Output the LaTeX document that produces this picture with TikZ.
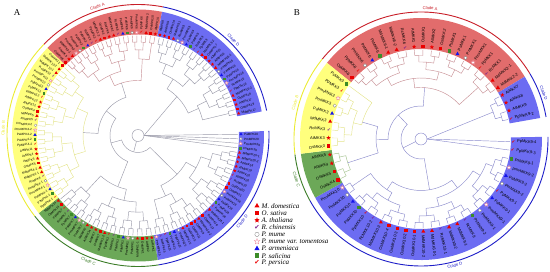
\documentclass[tikz,border=0pt]{standalone}
\usepackage{fontspec}
\setmainfont{Liberation Serif}
\setsansfont{Liberation Sans}
\newfontfamily\tickfont{DejaVu Sans}
\usetikzlibrary{shapes.geometric}
\definecolor{redband}{RGB}{226,108,108}
\definecolor{blueband}{RGB}{108,108,242}
\definecolor{yellowband}{RGB}{255,255,125}
\definecolor{greenband}{RGB}{108,168,88}
\definecolor{redarc}{RGB}{200,30,40}
\definecolor{bluearc}{RGB}{30,30,200}
\definecolor{yellowarc}{RGB}{235,235,50}
\definecolor{greenarc}{RGB}{60,125,40}
\definecolor{redbranch}{RGB}{200,145,150}
\definecolor{bluebranch}{RGB}{140,140,205}
\definecolor{yellowbranch}{RGB}{228,228,140}
\definecolor{greenbranch}{RGB}{165,195,145}
\definecolor{graybranch}{RGB}{155,155,170}
\definecolor{mkred}{RGB}{235,0,0}
\definecolor{mkblue}{RGB}{20,20,235}
\definecolor{mkgreen}{RGB}{60,140,40}
\definecolor{mkpurple}{RGB}{120,30,140}
\definecolor{mkpink}{RGB}{235,130,150}

%% coloured ring segment behind one clade
\newcommand\sectorband[3]{%
  \fill[#3] (#1:\rbi pt) arc[start angle=#1,end angle=#2,radius=\rbi pt]
    -- (#2:\rbo pt) arc[start angle=#2,end angle=#1,radius=\rbo pt] -- cycle;}

%% outer arc and clade name
\newcommand\cladearc[5]{%
  \draw[#3,line width=0.9pt] (#1:\rarc pt) arc[start angle=#1,end angle=#2,radius=\rarc pt];
  \pgfmathsetmacro\amid{(#1+#2)/2}
  \pgfmathtruncatemacro\low{sin(\amid)<0}
  \ifnum\low=1 \def\tilt{90}\else\def\tilt{-90}\fi
  \node[clade name,text=#3,rotate=\amid+\tilt] (#4) at (\amid:\rlab pt) {#5};}

%% leaf markers and labels: id, first angle, last angle, count, species/number list
\newcommand\leaves[5]{%
  \foreach \kind/\gnum [count=\i] in {#5}{
    \pgfmathsetmacro\ang{#2+(\i-0.5)*(#3-#2)/#4}
    \coordinate (tip-#1-\i) at (\ang:\rz pt);
    \node[name=mk-#1-\i,at={(\ang:\rmk pt)},mk \kind];
    \pgfmathtruncatemacro\flip{cos(\ang)<0}
    \ifnum\flip=1
      \node[leaf,rotate=\ang+180,anchor=east] (lb-#1-\i) at (\ang:\rtx pt) {\kind\gtag\gnum};
    \else
      \node[leaf,rotate=\ang,anchor=west] (lb-#1-\i) at (\ang:\rtx pt) {\kind\gtag\gnum};
    \fi
  }}

%% tree of one clade, leaves joined pairwise level by level
\newcommand\branches[4]{%
  \pgfmathtruncatemacro\klast{ceil(ln(#3)/ln(2)-0.01)}
  \foreach \lev in {1,...,\klast}{
    \pgfmathtruncatemacro\gs{2^\lev}
    \pgfmathtruncatemacro\hs{2^(\lev-1)}
    \pgfmathtruncatemacro\ng{ceil(#3/\gs)-1}
    \pgfmathsetmacro\rprev{\rz-\ka*(\lev-1)-\kb*(\lev-1)^2}
    \pgfmathsetmacro\rnow{\rz-\ka*\lev-\kb*\lev^2}
    \foreach \q in {0,...,\ng}{
      \pgfmathtruncatemacro\fa{\q*\gs}
      \pgfmathtruncatemacro\fb{min(\fa+\hs,#3)-1}
      \pgfmathsetmacro\ma{#1+((\fa+\fb)/2+0.5)*(#2-#1)/#3}
      \draw[#4] (\ma:\rprev pt) -- (\ma:\rnow pt);
      \pgfmathtruncatemacro\sy{\fa+\hs}
      \ifnum\sy<#3
        \pgfmathtruncatemacro\sz{min(\fa+\gs,#3)-1}
        \pgfmathsetmacro\mb{#1+((\sy+\sz)/2+0.5)*(#2-#1)/#3}
        \draw[#4] (\mb:\rprev pt) -- (\mb:\rnow pt) arc[start angle=\mb,end angle=\ma,radius=\rnow pt];
      \fi
    }
  }}

\newcommand\clade[6]{\branches{#2}{#3}{#4}{#5}\leaves{#1}{#2}{#3}{#4}{#6}}

\begin{document}
\begin{tikzpicture}[x=1pt,y=1pt]
  %%Styles for markers, labels and branches
  \tikzset{mk/.style={inner sep=0pt,minimum size=\mks,node contents={}}}
  \tikzset{mk Md/.style={mk,regular polygon,regular polygon sides=3,minimum size={1.35*\mks},fill=mkred}}
  \tikzset{mk Os/.style={mk,rectangle,fill=mkred}}
  \tikzset{mk At/.style={mk,star,star points=5,star point ratio=2.3,minimum size={1.3*\mks},fill=mkred}}
  \tikzset{mk Rc/.style={mk,text=mkpurple,font=\tickfont\fontsize{\mkf}{\mkf}\selectfont,node contents={✔}}}
  \tikzset{mk Pm/.style={mk,circle,draw=gray,fill=white,line width=.3pt}}
  \tikzset{mk Pmv/.style={mk,star,star points=5,star point ratio=2.3,minimum size={1.3*\mks},draw=mkpink,fill=white,line width=.3pt}}
  \tikzset{mk Pa/.style={mk,regular polygon,regular polygon sides=3,minimum size={1.35*\mks},fill=mkblue}}
  \tikzset{mk Ps/.style={mk,rectangle,fill=mkgreen}}
  \tikzset{mk Pp/.style={mk,text=mkred,font=\tickfont\fontsize{\mkf}{\mkf}\selectfont,node contents={✔}}}
  \tikzset{leaf/.style={inner sep=0pt,font=\sffamily\fontsize{\lbf}{\lbf}\selectfont}}
  \tikzset{clade name/.style={inner sep=0pt,font=\sffamily\fontsize{4.2}{4.2}\selectfont}}
  \tikzset{key name/.style={anchor=west,inner sep=0pt,font=\itshape\fontsize{7}{7}\selectfont}}
  \tikzset{panel letter/.style={inner sep=0pt,font=\fontsize{9}{9}\selectfont}}
  \tikzset{red tree/.style={line width=.45pt,draw=redbranch}}
  \tikzset{blue tree/.style={line width=.45pt,draw=bluebranch}}
  \tikzset{yellow tree/.style={line width=.45pt,draw=yellowbranch}}
  \tikzset{green tree/.style={line width=.45pt,draw=greenbranch}}
  \tikzset{gray tree/.style={line width=.45pt,draw=graybranch}}
  \useasboundingbox (0,0) rectangle (550,272);

  %%Panel A
  \begin{scope}[shift={(138,136.5)}]
    \def\rz{100}\def\rmk{103}\def\rtx{106}\def\rbi{101}\def\rbo{126}
    \def\rarc{131}\def\rlab{135}\def\ka{6}\def\kb{0.6}\def\gtag{MPK}
    \def\mks{2.8pt}\def\mkf{3.8}\def\lbf{3.1}
    \sectorband{136}{79}{redband}
    \sectorband{79}{11}{blueband}
    \sectorband{2}{-81}{blueband}
    \sectorband{-81}{-142}{greenband}
    \sectorband{218}{136}{yellowband}
    %%Clades
    \clade{aA}{136}{79}{22}{red tree}{Os/6,At/3,Md/3-1,Pmv/3,Pm/3,Ps/3,Pa/3,Rc/3,Pp/3,Md/3-2,Os/3,At/6,Md/6-1,Rc/6,Pa/6,Ps/6,Pm/6,Pmv/6,Pp/6,Md/6-2,Os/10,At/10}
    \clade{aD1}{79}{11}{26}{gray tree}{At/8,At/9,Os/16,Md/9-1,Pm/9,Pmv/9,Pa/9,Ps/9,Rc/9,Pp/9,Md/9-2,Os/17,At/15,At/16,Md/16-1,Pm/16,Pa/16,Ps/16,Pmv/16,Rc/16,Pp/16,Md/16-2,Os/18,At/17,Os/19,Md/17}
    \leaves{aD2}{2}{-8.375}{4}{Pa/20,Pm/20,Pmv/20,Ps/20}
    \clade{aD3}{-8.375}{-81}{28}{gray tree}{Md/20-1,Md/20-2,At/18,At/19,At/20,Pp/20,Rc/20,Os/20,Os/21,Pmv/18,Pm/18,Pa/18,Ps/18,Pp/18,Md/18-1,Rc/18,Os/13,Md/18-2,Os/8,Os/11,Os/15,Md/15,Pm/15,Pa/15,Ps/15,Pp/15,Rc/15,Pmv/15}
    \clade{aC}{-81}{-142}{23}{gray tree}{At/1,At/2,Os/1,Md/1-1,Pm/1,Pmv/1,Pa/1,Ps/1,Rc/1,Pp/1,Md/1-2,Os/7,At/7,At/14,Md/7,Pm/7,Pmv/7,Pa/7,Ps/7,Rc/7,Pp/7,Os/14,Md/14}
    \clade{aB}{218}{136}{31}{yellow tree}{Pp/4-1,Ps/4-1,Pa/4-1,Pmv/4-1,Pm/4-1,Rc/4,Md/4-1,Md/4-2,Os/5,At/5,At/4,At/11,Pp/4-2,Ps/4-2,Pa/4-2,Pmv/4-2,Pm/4-2,Rc/5,Md/5,Os/4,At/12,At/13,Pp/12,Ps/12,Pa/12,Pm/12,Pmv/12,Rc/12,Md/12-1,Md/12-2,Os/12}
    %%Backbone
    \draw[gray tree] (107.5:55pt) -- (107.5:40pt) arc[start angle=107.5,end angle=177,radius=40pt] -- (177:55pt);
    \draw[gray tree] (142.25:40pt) -- (142.25:28pt) arc[start angle=142.25,end angle=248.5,radius=28pt] -- (248.5:55pt);
    \draw[gray tree] (195.4:28pt) -- (195.4:17pt) arc[start angle=195.4,end angle=315.3,radius=17pt] -- (315.3:55pt);
    \draw[gray tree] (255.3:17pt) -- (255.3:6pt);
    \draw[gray tree] (0,0) circle[radius=6pt];
    \coordinate (rootA) at (0:6pt);
    \draw[gray tree] (rootA) -- (45:55pt);
    \foreach \i in {1,...,4}{\draw[gray tree] (rootA) -- (tip-aD2-\i);}
    %%Outer arcs
    \cladearc{136}{79}{redarc}{aArcA}{Clade A}
    \cladearc{79}{11}{bluearc}{aArcD1}{Clade D}
    \cladearc{2}{-81}{bluearc}{aArcD2}{Clade D}
    \cladearc{-81}{-142}{greenarc}{aArcC}{Clade C}
    \cladearc{218}{136}{yellowarc}{aArcB}{Clade B}
  \end{scope}

  %%Panel B
  \begin{scope}[shift={(421,133)}]
    \def\rz{89}\def\rmk{92.5}\def\rtx{96}\def\rbi{90}\def\rbo{121}
    \def\rarc{127}\def\rlab{131}\def\ka{5}\def\kb{0.5}\def\gtag{MKK}
    \def\mks{3.4pt}\def\mkf{4.4}\def\lbf{4.0}
    \sectorband{141}{31}{redband}
    \sectorband{31}{10}{blueband}
    \sectorband{1}{-151}{blueband}
    \sectorband{-151}{-173}{greenband}
    \sectorband{187}{141}{yellowband}
    %%Clades
    \clade{bA}{141}{31}{20}{red tree}{Os/6,Pp/6,Pm/6,Pa/6,Ps/6,Md/6-1,Md/6-2,Rc/6,At/1,Os/1,At/2,Os/2,Ps/1,Pa/1,Pm/1,Pmv/1,Pp/1,Rc/1,Md/2-1,Md/2-2}
    \clade{bD1}{31}{10}{4}{blue tree}{At/7,At/8,At/9,Pp/9-2}
    \leaves{bD2}{1}{-9.857}{2}{Pp/9-4,Pp/9-3}
    \clade{bD3}{-9.857}{-151}{26}{blue tree}{Ps/9-1,Pmv/9-2,Pa/9-2,Pm/9-2,Pp/9-1,Pa/9-1,Pmv/9-1,Pm/9-1,Ps/9-2,Rc/9,Md/9-1,Md/9-2,Rc/10-1,Md/10-1,Md/10-2,Os/10-1,Os/10-2,Os/10-3,Os/10-4,Md/10-3,Rc/10-2,Pp/10,Ps/10,Pa/10,Pm/10,Pmv/10}
    \clade{bC}{-151}{-173}{4}{green tree}{Os/4,Os/5,At/4,At/5}
    \clade{bB}{187}{141}{9}{yellow tree}{Os/3,At/3,Rc/3,Md/3,Pa/3,Pm/3,Pmv/3,Pp/3,Ps/3}
    %%Backbone
    \draw[blue tree] (164:61pt) -- (164:45pt) arc[start angle=164,end angle=198,radius=45pt] -- (198:77pt);
    \draw[blue tree] (86:51.5pt) -- (86:33pt) arc[start angle=86,end angle=181,radius=33pt] -- (181:45pt);
    \draw[blue tree] (133.5:33pt) -- (133.5:20pt) arc[start angle=133.5,end angle=279.57,radius=20pt] -- (279.57:51.5pt);
    \draw[blue tree] (206.5:20pt) -- (206.5:6pt);
    \draw[blue tree] (0,0) circle[radius=6pt];
    \coordinate (rootB) at (0:6pt);
    \draw[blue tree] (rootB) -- (20.5:77pt);
    \foreach \i in {1,2}{\draw[blue tree] (rootB) -- (tip-bD2-\i);}
    %%Outer arcs
    \cladearc{141}{31}{redarc}{bArcA}{Clade A}
    \cladearc{31}{10}{bluearc}{bArcD1}{Clade D}
    \cladearc{1}{-151}{bluearc}{bArcD2}{Clade D}
    \cladearc{-151}{-173}{greenarc}{bArcC}{Clade C}
    \cladearc{187}{141}{yellowarc}{bArcB}{Clade B}
  \end{scope}

  %%Legend
  \begin{scope}
    \def\mks{4.4pt}\def\mkf{6.4}
    \foreach \kind/\species [count=\i] in {Md/M. domestica,Os/O. sativa,At/A. thaliana,Rc/R. chinensis,Pm/P. mume,Pmv/P. mume var. tomentosa,Pa/P. armeniaca,Ps/P. salicina,Pp/P. persica}{
      \node[name=key-\kind,at={(257,{66-7.1*(\i-1)})},mk \kind];
      \node[key name] (name-\kind) at (261.5,{66-7.1*(\i-1)}) {\species};
    }
  \end{scope}

  %%Panel letters
  \node[panel letter] (letterA) at (17,259) {A};
  \node[panel letter] (letterB) at (297,259) {B};
\end{tikzpicture}
\end{document}
